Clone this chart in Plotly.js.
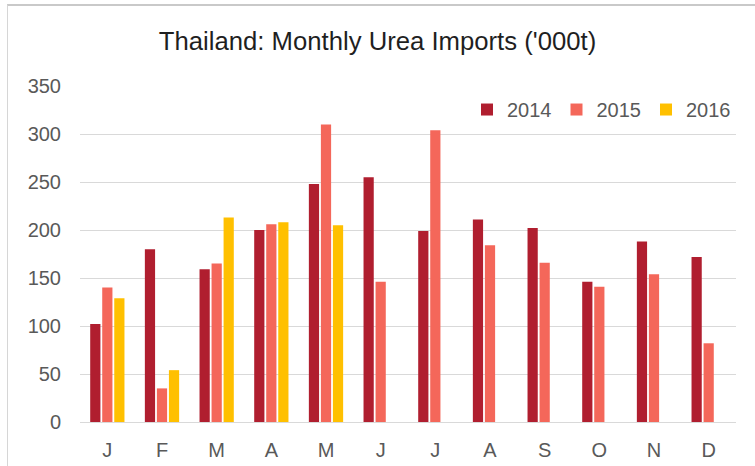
<!DOCTYPE html>
<html>
<head>
<meta charset="utf-8">
<script src="https://cdn.plot.ly/plotly-3.0.1.min.js"></script>
<style>
  html, body { margin: 0; padding: 0; background: #ffffff; }
  #wrap { position: relative; width: 755px; height: 466px; overflow: hidden; }
  #chart { position: absolute; left: 0; top: 0; width: 755px; height: 466px; }
  #frame { position: absolute; left: 7px; top: 4px; width: 760px; height: 480px;
           border-top: 2px solid #c9c9c9; border-left: 1px solid #d6d6d6; pointer-events: none; }
</style>
</head>
<body>
<div id="wrap">
  <div id="chart"></div>
  <div id="frame"></div>
</div>
<script>
const months = ["J", "F", "M", "A", "M ", "J ", "J  ", "A ", "S", "O", "N", "D"];
const tickLabels = ["J", "F", "M", "A", "M", "J", "J", "A", "S", "O", "N", "D"];
const imports2014 = [102, 180, 159, 200, 248, 255, 199, 211, 202, 146, 188, 172];
const imports2015 = [140, 35, 165, 206, 310, 146, 304, 184, 166, 141, 154, 82];
const imports2016 = [129, 54, 213, 208, 205, null, null, null, null, null, null, null];
const yTicks = [0, 50, 100, 150, 200, 250, 300, 350];

const traces = [
  { type: "bar", name: "2014", x: months, y: imports2014, marker: { color: "#B01E2F" } },
  { type: "bar", name: "2015", x: months, y: imports2015, marker: { color: "#F4675A" } },
  { type: "bar", name: "2016", x: months, y: imports2016, marker: { color: "#FFC000" } }
];

const layout = {
  width: 755, height: 466,
  margin: { l: 80, r: 19, t: 86, b: 44 },
  paper_bgcolor: "#ffffff", plot_bgcolor: "#ffffff",
  font: { family: "Liberation Sans, Arial, sans-serif", color: "#595959", size: 20 },
  title: { text: "Thailand: Monthly Urea Imports ('000t)", x: 0.5, xanchor: "center",
           xref: "container", yref: "container", y: 0.912, yanchor: "middle",
           font: { family: "Liberation Sans, Arial, sans-serif", size: 25.7, color: "#1f1f1f" } },
  barmode: "group", bargap: 0.34, bargroupgap: 0.15,
  showlegend: true,
  legend: { orientation: "h", x: 1, xanchor: "right", y: 0.93, yanchor: "middle",
            font: { size: 20, color: "#595959" }, bgcolor: "#ffffff", traceorder: "normal",
            itemwidth: 30 },
  xaxis: { type: "category", tickvals: months, ticktext: tickLabels, showgrid: false,
           showline: true, linecolor: "#d9d9d9", linewidth: 1,
           ticks: "outside", ticklen: 10, tickcolor: "rgba(0,0,0,0)",
           tickfont: { size: 20, color: "#595959" }, fixedrange: true },
  yaxis: { range: [0, 350], tickvals: yTicks, showgrid: true, gridcolor: "#d9d9d9", gridwidth: 1,
           zeroline: false, showline: false,
           ticks: "outside", ticklen: 14, tickcolor: "rgba(0,0,0,0)",
           tickfont: { size: 20, color: "#595959" }, fixedrange: true }
};

Plotly.newPlot("chart", traces, layout, { displayModeBar: false, staticPlot: true });
</script>
</body>
</html>
